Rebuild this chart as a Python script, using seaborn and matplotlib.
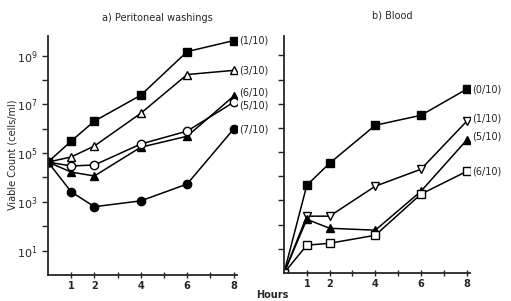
import numpy as np
import pandas as pd
import matplotlib
matplotlib.use("Agg")
import matplotlib.pyplot as plt
from matplotlib.ticker import FixedLocator, NullFormatter
import seaborn as sns

# hours sampled
hours = [0, 1, 2, 4, 6, 8]

# a) Peritoneal washings, log10 viable count (read off the picture)
pw_sq_filled = [4.63, 5.49, 6.31, 7.37, 9.16, 9.61]   # (1/10)
pw_tri_open = [4.63, 4.84, 5.29, 6.63, 8.22, 8.39]    # (3/10)
pw_tri_filled = [4.63, 4.22, 4.06, 5.24, 5.69, 7.33]  # (6/10)
pw_circ_open = [4.63, 4.47, 4.51, 5.37, 5.90, 7.08]   # (5/10)
pw_circ_filled = [4.63, 3.41, 2.80, 3.04, 3.73, 5.98] # (7/10)

# b) Blood
bl_sq_filled = [0.0, 3.63, 4.54, 6.11, 6.52, 7.60]    # (0/10)
bl_vtri_open = [0.0, 2.35, 2.35, 3.59, 4.29, 6.27]    # (1/10)
bl_tri_filled = [0.0, 2.22, 1.85, 1.77, 3.38, 5.49]   # (5/10)
bl_sq_open = [0.0, 1.15, 1.23, 1.56, 3.26, 4.20]      # (6/10)

pw_labels = ["(1/10)", "(3/10)", "(6/10)", "(5/10)", "(7/10)"]
bl_labels = ["(0/10)", "(1/10)", "(5/10)", "(6/10)"]

sns.set_style("ticks")
plt.rcParams['font.family'] = ['DejaVu Sans']

fig = plt.figure(figsize=(5.11, 3.01), dpi=100)
H = 301.0
W = 511.0
axA = fig.add_axes([48 / W, 1 - 275 / H, (237 - 48) / W, (275 - 36) / H])
axB = fig.add_axes([284 / W, 1 - 273 / H, (470 - 284) / W, (273 - 36) / H])

def draw(ax, series, styles, labels, offsets):
    for vals, (mk, filled), lab, off in zip(series, styles, labels, offsets):
        y = 10 ** np.array(vals)
        sns.lineplot(x=hours, y=y, ax=ax, color="black", linewidth=1.1,
                     marker=mk, markersize=6, mec="black", mew=1.0,
                     mfc="black" if filled else "white")
        ax.annotate(lab, (hours[-1], y[-1]), xytext=off, textcoords="offset points",
                    fontsize=7, va="center", ha="left")

draw(axA,
     [pw_sq_filled, pw_tri_open, pw_tri_filled, pw_circ_open, pw_circ_filled],
     [("s", True), ("^", False), ("^", True), ("o", False), ("o", True)],
     pw_labels,
     [(4, 0), (4, 0), (4, 3), (4, -2), (4, 0)])
draw(axB,
     [bl_sq_filled, bl_vtri_open, bl_tri_filled, bl_sq_open],
     [("s", True), ("v", False), ("^", True), ("s", False)],
     bl_labels,
     [(4, 0), (4, 2), (4, 3), (4, 0)])

for ax in (axA, axB):
    ax.set_yscale("log")
    ax.set_ylim(1, 10 ** 9.8)
    ax.set_xlim(0, 8.15)
    ax.set_xticks([1, 2, 4, 6, 8])
    ax.set_xticklabels(["1", "2", "4", "6", "8"], fontsize=7, fontweight="bold")
    ax.xaxis.set_minor_locator(FixedLocator([3, 5, 7]))
    ax.tick_params(axis="x", which="both", direction="inout", length=5, width=1, pad=2)
    ax.tick_params(axis="y", which="both", length=4, width=1)
    for s in ("top", "right"):
        ax.spines[s].set_visible(False)
    for s in ("left", "bottom"):
        ax.spines[s].set_linewidth(1.3)
    ax.set_xlabel("")
    ax.set_ylabel("")
    ax.yaxis.set_minor_formatter(NullFormatter())

axA.set_yticks([1e1, 1e3, 1e5, 1e7, 1e9])
axA.set_yticklabels([r"$10^1$", r"$10^3$", r"$10^5$", r"$10^7$", r"$10^9$"], fontsize=8)
axA.yaxis.set_minor_locator(FixedLocator([1e2, 1e4, 1e6, 1e8]))

axB.set_yticks([10.0 ** k for k in range(1, 10)])
axB.set_yticklabels([])
axB.yaxis.set_minor_locator(FixedLocator([]))

fig.text(157 / W, 1 - 18 / H, "a) Peritoneal washings", ha="center", va="center", fontsize=7)
fig.text(392 / W, 1 - 16 / H, "b) Blood", ha="center", va="center", fontsize=7)
fig.text(13 / W, 1 - 155 / H, "Viable Count (cells/ml)", ha="center", va="center",
         rotation=90, fontsize=7)
fig.text(272 / W, 1 - 295 / H, "Hours", ha="center", va="center", fontsize=7, fontweight="bold")

fig.savefig("out.png", dpi=100)
